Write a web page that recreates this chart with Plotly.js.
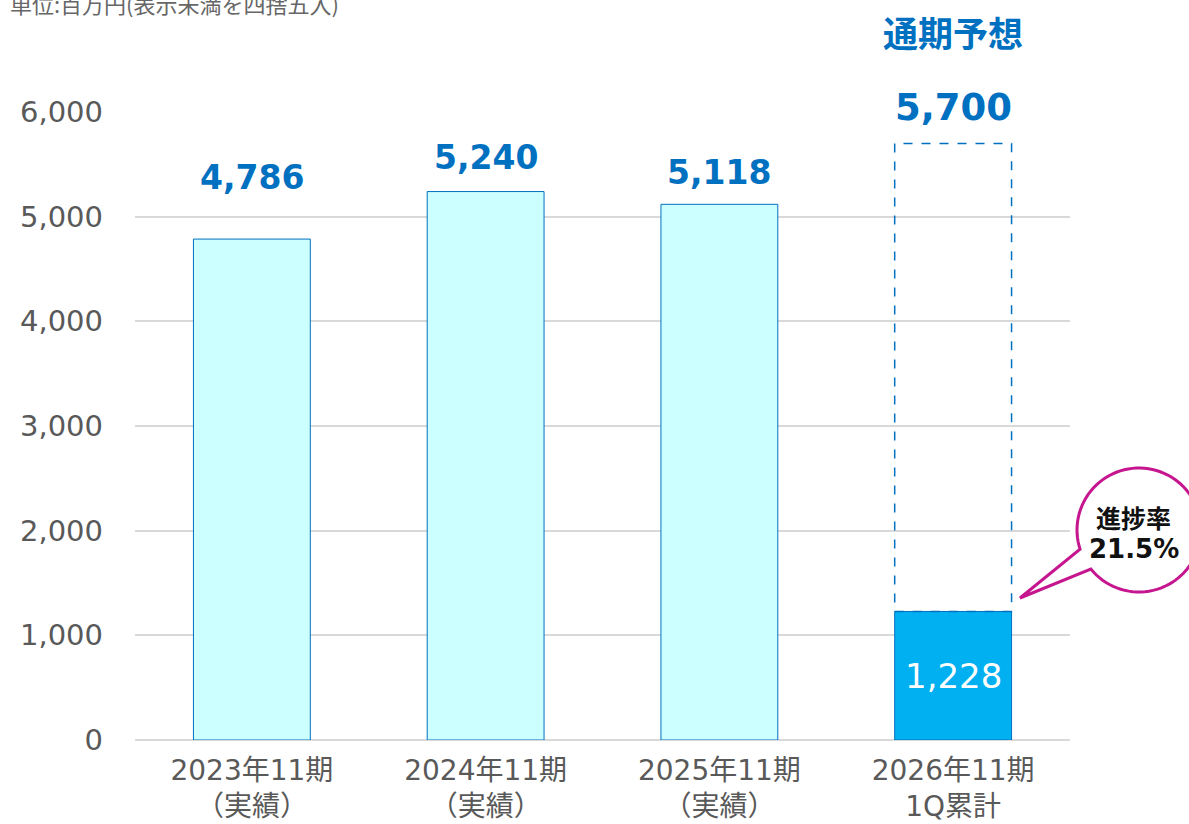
<!DOCTYPE html>
<html><head><meta charset="utf-8">
<script src="https://cdn.plot.ly/plotly-3.0.1.min.js"></script>
<style>html,body{margin:0;padding:0;background:#fff}#c{width:1189px;height:824px}</style>
</head><body><div id="c"></div>
<script>
const categories = ["2023年11期<br>（実績）", "2024年11期<br>（実績）", "2025年11期<br>（実績）", "2026年11期<br>1Q累計"];
const values = [4786, 5240, 5118, 1228];
const valueLabels = ["4,786", "5,240", "5,118", "1,228"];
const forecastValue = 5700;
const forecastLabel = "5,700";
const forecastTitle = "通期予想";
const progressTitle = "進捗率";
const progressLabel = "21.5%";
const unitNote = "単位:百万円(表示未満を四捨五入)";
const yTicks = [0, 1000, 2000, 3000, 4000, 5000, 6000];
const yTickLabels = ["0", "1,000", "2,000", "3,000", "4,000", "5,000", "6,000"];

// style
const labelShift = [62, 34, 32];
const FONT = "DejaVu Sans, Noto Sans CJK JP, sans-serif";
const CJK = "Noto Sans CJK JP, sans-serif";
const BLUE = "#0070c0";
const MAG = "#c5168f";
const L = 135, R = 1070, T = 112, B = 740, W = 1189, H = 824;
const px2x = p => (p - L) / (R - L);
const px2y = p => (B - p) / (B - T);

const x = categories.map((c, i) => i);
const colors = values.map((v, i) => i === values.length - 1 ? "#00b0f0" : "#ccffff");

const trace = {
  type: "bar", x: x, y: values, width: 0.5,
  marker: {color: colors, line: {color: BLUE, width: 1}},
  hoverinfo: "skip"
};

const annotations = [];
values.forEach((v, i) => {
  if (i < values.length - 1) {
    annotations.push({x: i, y: v, xref: "x", yref: "y", text: "<b>" + valueLabels[i] + "</b>", showarrow: false,
      yshift: labelShift[i], yanchor: "middle", xanchor: "center",
      font: {family: FONT, size: 33, color: BLUE}});
  } else {
    annotations.push({x: i, y: v / 2, xref: "x", yref: "y", text: valueLabels[i], showarrow: false,
      yanchor: "middle", xanchor: "center", font: {family: FONT, size: 34, color: "#ffffff"}});
  }
});
const last = values.length - 1;
annotations.push({x: last, y: forecastValue, xref: "x", yref: "y", text: "<b>" + forecastLabel + "</b>", showarrow: false,
  yshift: 36, yanchor: "middle", xanchor: "center", font: {family: FONT, size: 37, color: BLUE}});
annotations.push({x: last, y: forecastValue, xref: "x", yref: "y", text: "<b>" + forecastTitle + "</b>", showarrow: false,
  yshift: 112, yanchor: "middle", xanchor: "center", font: {family: CJK, size: 35, color: BLUE}});
annotations.push({x: px2x(1133), y: px2y(517), xref: "paper", yref: "paper", text: "<b>" + progressTitle + "</b>",
  showarrow: false, xanchor: "center", yanchor: "middle", font: {family: CJK, size: 25, color: "#111"}});
annotations.push({x: px2x(1134), y: px2y(549), xref: "paper", yref: "paper", text: "<b>" + progressLabel + "</b>",
  showarrow: false, xanchor: "center", yanchor: "middle", font: {family: FONT, size: 26, color: "#111"}});
annotations.push({x: px2x(8), y: px2y(3), xref: "paper", yref: "paper", text: unitNote,
  showarrow: false, xanchor: "left", yanchor: "middle", font: {family: CJK, size: 22, color: "#666"}});

// callout bubble path
const cx = 1139, cy = 530, r = 62;
const a1 = 162 * Math.PI / 180, a2 = (141 + 360) * Math.PI / 180;
let pts = [];
const N = 90;
for (let k = 0; k <= N; k++) {
  const a = a1 + (a2 - a1) * k / N;
  pts.push([cx + r * Math.cos(a), cy + r * Math.sin(a)]);
}
pts.push([1020, 598]);
let path = pts.map((p, k) => (k === 0 ? "M" : "L") + px2x(p[0]).toFixed(5) + "," + px2y(p[1]).toFixed(5)).join(" ") + " Z";

const shapes = [
  {type: "rect", xref: "x", yref: "y", x0: last - 0.25, x1: last + 0.25, y0: values[last], y1: forecastValue,
   fillcolor: "rgba(255,255,255,0)", line: {color: BLUE, width: 1.5, dash: "dash"}, layer: "above"},
  {type: "path", xref: "paper", yref: "paper", path: path, fillcolor: "#ffffff",
   line: {color: MAG, width: 3}, layer: "above"}
];

const layout = {
  width: W, height: H,
  margin: {l: L, r: W - R, t: T, b: H - B, pad: 0},
  paper_bgcolor: "#fff", plot_bgcolor: "#fff",
  showlegend: false, bargap: 0.5,
  xaxis: {tickvals: x, ticktext: categories, range: [-0.5, 3.5], showgrid: false, zeroline: false,
    showline: false, ticks: "", ticklabelstandoff: 11,
    tickfont: {family: FONT, size: 28, color: "#595959"}, fixedrange: true},
  yaxis: {range: [0, 6000], tickvals: yTicks, ticktext: yTickLabels, showgrid: true, gridcolor: "#d9d9d9",
    gridwidth: 2, zeroline: true, zerolinecolor: "#d9d9d9", zerolinewidth: 2, showline: false, ticks: "",
    ticklabelstandoff: 31, tickfont: {family: FONT, size: 29, color: "#595959"}, fixedrange: true},
  annotations: annotations, shapes: shapes
};
Plotly.newPlot("c", [trace], layout, {displayModeBar: false, staticPlot: true});
</script></body></html>
